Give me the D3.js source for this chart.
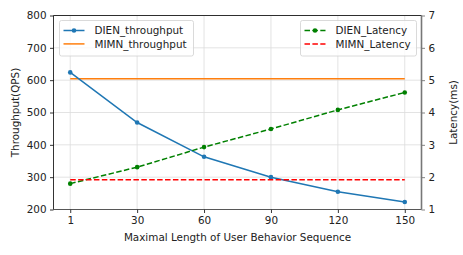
<!DOCTYPE html>
<html><head><meta charset="utf-8">
<script src="https://cdn.jsdelivr.net/npm/d3@7"></script>
<style>body{margin:0;background:#fff}svg{display:block}text{font-family:"DejaVu Sans",sans-serif}</style>
</head><body><svg id="c" width="463" height="255"></svg>
<script>
const categories = ["1","30","60","90","120","150"];
const dienThroughput = [624, 469, 363, 300, 255, 223];
const mimnThroughput = [604, 604, 604, 604, 604, 604];
const dienLatency = [1.8, 2.31, 2.93, 3.49, 4.08, 4.62];
const mimnLatency = [1.92, 1.92, 1.92, 1.92, 1.92, 1.92];
const leftTicks = [200,300,400,500,600,700,800];
const rightTicks = [1,2,3,4,5,6,7];

const svg = d3.select("#c");
const L = 53.5, R = 421.5, T = 15.5, B = 209.5;
const x = d3.scalePoint().domain(categories).range([L, R]).padding(0.25);
const yL = d3.scaleLinear().domain([200, 800]).range([B, T]);
const yR = d3.scaleLinear().domain([1, 7]).range([B, T]);
const fs = 10.4;

// grid
const g = svg.append("g");
g.selectAll(".gx").data(categories).enter().append("line")
  .attr("x1", d => x(d)).attr("x2", d => x(d)).attr("y1", T).attr("y2", B)
  .attr("stroke", "#dcdcdc").attr("stroke-width", 0.8);
g.selectAll(".gy").data(leftTicks).enter().append("line")
  .attr("x1", L).attr("x2", R).attr("y1", d => yL(d)).attr("y2", d => yL(d))
  .attr("stroke", "#dcdcdc").attr("stroke-width", 0.8);

function styleAxis(ax, color) {
  ax.select(".domain").remove();
  ax.selectAll("line").attr("stroke", color || "#000").attr("stroke-width", 0.8);
  ax.selectAll("text").attr("font-size", fs).attr("fill", "#222")
    .attr("font-family", "DejaVu Sans, sans-serif");
}

const ax = svg.append("g").attr("transform", `translate(0,${B})`)
  .call(d3.axisBottom(x).tickSize(3.5).tickPadding(3.5));
styleAxis(ax);
const ayl = svg.append("g").attr("transform", `translate(${L},0)`)
  .call(d3.axisLeft(yL).tickValues(leftTicks).tickSize(3.5).tickPadding(3.5));
styleAxis(ayl);
const ayr = svg.append("g").attr("transform", `translate(${R},0)`)
  .call(d3.axisRight(yR).tickValues(rightTicks).tickFormat(d3.format("d")).tickSize(3.5).tickPadding(3.5));
styleAxis(ayr, "#666");

// lines
const line = (ys, arr) => d3.line().x((d, i) => x(categories[i])).y(d => ys(d))(arr);
svg.append("path").attr("d", line(yL, mimnThroughput))
  .attr("fill", "none").attr("stroke", "#ff7f0e").attr("stroke-width", 1.5);
svg.append("path").attr("d", line(yL, dienThroughput))
  .attr("fill", "none").attr("stroke", "#1f77b4").attr("stroke-width", 1.5);
svg.selectAll(".p1").data(dienThroughput).enter().append("circle")
  .attr("cx", (d, i) => x(categories[i])).attr("cy", d => yL(d)).attr("r", 2.3).attr("fill", "#1f77b4");
svg.append("path").attr("d", line(yR, dienLatency))
  .attr("fill", "none").attr("stroke", "#008000").attr("stroke-width", 1.5).attr("stroke-dasharray", "5.5,2.4");
svg.selectAll(".p2").data(dienLatency).enter().append("circle")
  .attr("cx", (d, i) => x(categories[i])).attr("cy", d => yR(d)).attr("r", 2.3).attr("fill", "#008000");
svg.append("path").attr("d", line(yR, mimnLatency))
  .attr("fill", "none").attr("stroke", "#ff0000").attr("stroke-width", 1.5).attr("stroke-dasharray", "5.5,2.4");

// spines
svg.append("line").attr("x1", L).attr("x2", R).attr("y1", T).attr("y2", T).attr("stroke", "#000").attr("stroke-width", 0.8);
svg.append("line").attr("x1", L).attr("x2", R).attr("y1", B).attr("y2", B).attr("stroke", "#333").attr("stroke-width", 0.8);
svg.append("line").attr("x1", L).attr("x2", L).attr("y1", T).attr("y2", B).attr("stroke", "#000").attr("stroke-width", 0.8);
svg.append("line").attr("x1", R).attr("x2", R).attr("y1", T).attr("y2", B).attr("stroke", "#777").attr("stroke-width", 1.6);

// axis labels
svg.append("text").attr("x", (L + R) / 2).attr("y", 241).attr("text-anchor", "middle")
  .attr("font-size", fs).attr("fill", "#222").text("Maximal Length of User Behavior Sequence");
svg.append("text").attr("transform", `translate(19,${(T + B) / 2}) rotate(-90)`).attr("text-anchor", "middle")
  .attr("font-size", fs).attr("fill", "#222").text("Throughput(QPS)");
svg.append("text").attr("transform", `translate(457,${(T + B) / 2}) rotate(-90)`).attr("text-anchor", "middle")
  .attr("font-size", fs).attr("fill", "#222").text("Latency(ms)");

// legends
function legend(x0, y0, w, h, items) {
  const lg = svg.append("g");
  lg.append("rect").attr("x", x0).attr("y", y0).attr("width", w).attr("height", h).attr("rx", 2)
    .attr("fill", "rgba(255,255,255,0.8)").attr("stroke", "#d0d0d0").attr("stroke-width", 0.8);
  items.forEach((it, i) => {
    const cy = y0 + 10 + i * 13.4;
    lg.append("line").attr("x1", x0 + 4).attr("x2", x0 + 25).attr("y1", cy).attr("y2", cy)
      .attr("stroke", it.color).attr("stroke-width", 1.5).attr("stroke-dasharray", it.dash || null);
    if (it.marker) lg.append("circle").attr("cx", x0 + 14.5).attr("cy", cy).attr("r", 2.3).attr("fill", it.color);
    lg.append("text").attr("x", x0 + 35).attr("y", cy + 3.8).attr("font-size", fs).attr("fill", "#222").text(it.label);
  });
}
legend(59.5, 20.5, 134, 35.5, [
  {label: "DIEN_throughput", color: "#1f77b4", marker: true},
  {label: "MIMN_throughput", color: "#ff7f0e"}
]);
legend(300.5, 20.5, 116, 35.5, [
  {label: "DIEN_Latency", color: "#008000", marker: true, dash: "5.5,2.4"},
  {label: "MIMN_Latency", color: "#ff0000", dash: "5.5,2.4"}
]);
</script></body></html>
